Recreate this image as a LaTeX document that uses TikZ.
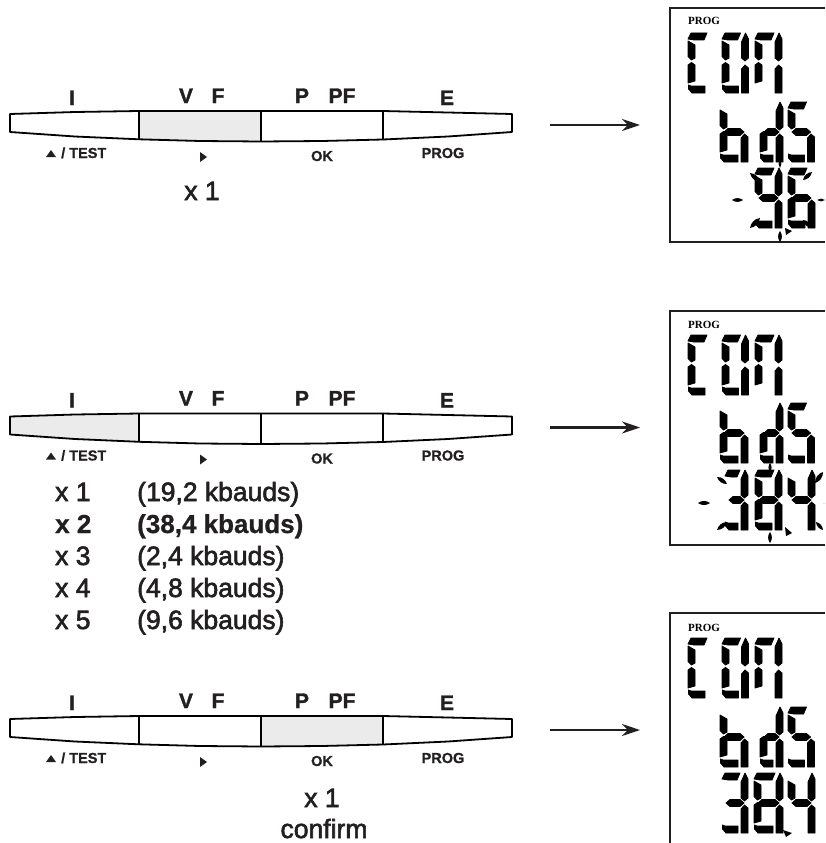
\documentclass[tikz,border=0pt]{standalone}
\usepackage{fontspec}
\setmainfont{Liberation Sans}
\newfontfamily\lblf[RawFeature={embolden=2.2}]{Liberation Sans}
\newfontfamily\lblb[RawFeature={embolden=0.8}]{Liberation Sans Bold}
\newfontfamily\lblk[RawFeature={embolden=1.5}]{Liberation Sans Bold}
\newfontfamily\serb{Liberation Serif Bold}
\usetikzlibrary{arrows.meta}
\definecolor{ink}{HTML}{231F20}
\definecolor{pressed}{HTML}{EBEBEB}
\tikzset{
  keytxt/.style={inner sep=0,anchor=base,text=ink,font=\lblk\fontsize{21}{21}\selectfont},
  subtxt/.style={inner sep=0,anchor=base,text=ink,font=\lblb\fontsize{14.5}{15}\selectfont},
  cnttxt/.style={inner sep=0,anchor=base,text=ink,font=\lblf\fontsize{26.5}{27}\selectfont},
  cntbold/.style={inner sep=0,anchor=base west,text=ink,font=\lblb\fontsize{26}{26}\selectfont},
  progtxt/.style={inner sep=0,anchor=base west,text=black,font=\serb\fontsize{11}{11}\selectfont},
  keybar/.style={draw=black,line width=1.8pt,line join=round},
  divider/.style={draw=black,line width=1.8pt},
  goarrow/.style={draw=ink,line width=2.2pt,-{Stealth[length=18pt,width=12pt]}},
  lcdbox/.style={draw=ink,line width=1.4pt},
  lcdseg/.style={fill=black,draw=black,line width=0.8pt,line join=round},
}
% seven-segment parts, local coordinates, width \dw, height 60
\newcommand\sga{\path[lcdseg] (0,6)--(3,0)--({\dw-8},0)--({\dw-11},7)--(6,7)--cycle;}
\newcommand\sgb{\path[lcdseg] ({\dw-7},9)--({\dw-3},0)--(\dw,6)--(\dw,25)--({\dw-3.5},28)--({\dw-7},25)--cycle;}
\newcommand\sgc{\path[lcdseg] ({\dw-7},36)--({\dw-3.5},32)--(\dw,35)--(\dw,60)--({\dw-7},60)--cycle;}
\newcommand\sgd{\path[lcdseg] (0.5,52)--(3,53)--({\dw-10},53)--({\dw-10},60)--(4,60)--(0.5,56)--cycle;}
\newcommand\sge{\path[lcdseg] (0,32)--(3.5,29.5)--(7,32)--(7,48)--(0,50)--cycle;}
\newcommand\sgf{\path[lcdseg] (0,8)--(7,12)--(7,25)--(3.5,27)--(0,23.5)--cycle;}
\newcommand\sgg{\path[lcdseg] (4,30)--(8,26.5)--({\dw-8},26.5)--({\dw-4},30)--({\dw-8},33.5)--(8,33.5)--cycle;}
\newcommand\dig[4]{\begin{scope}[shift={(#1,#2)}]\def\dw{#3}\foreach \s in {#4}{\csname sg\s\endcsname}\end{scope}}
\newcommand\ray[4]{\fill (#1,#2) to[bend left=36] (#3,#4) to[bend left=36] (#1,#2);}
\newcommand\lcdtop[2]{% #1 panel shift for COM, #2 shift for bds
  \dig{688}{#1+33}{27}{a,f,e,d}
  \dig{722}{#1+33}{26.5}{a,b,c,d,e,f}
  \dig{755}{#1+33}{27}{a,b,c,e,f}
  \dig{720}{#2+102}{28}{c,d,e,f,g}
  \dig{760}{#2+102}{23}{b,c,d,e,g}
  \dig{788}{#2+102}{26.5}{a,f,g,c,d}
}
\newcommand\keyrow[3]{% id, dy, pressed-key polygon
  \begin{scope}[yshift=-#2pt]
  \fill[pressed] #3;
  \draw[keybar] (10,114)--(75,112)--(139,111)--(261,111)--(383,111)--(448,112.5)--(512,114)--(512,132)--(448,136.5)--(383,139.5)--(322,141)--(261,141.5)--(200,141)--(139,139.3)--(75,136.5)--(10,132)--cycle;
  \draw[divider] (139,111)--(139,139.3);
  \draw[divider] (261,111)--(261,141.5);
  \draw[divider] (383,111)--(383,139.5);
  \node[keytxt] (i#1) at (72,105) {I};
  \node[keytxt] (v#1) at (186,103) {V};
  \node[keytxt] (f#1) at (218,103) {F};
  \node[keytxt] (p#1) at (302,103) {P};
  \node[keytxt] (pf#1) at (342,103) {PF};
  \node[keytxt] (e#1) at (447,105) {E};
  \fill[ink] (46,157)--(51,150)--(56,157)--cycle;
  \node[subtxt,anchor=base west] (t#1) at (61,158) {/ TEST};
  \fill[ink] (200,152)--(207,157)--(200,162)--cycle;
  \node[subtxt] (ok#1) at (322,161) {OK};
  \node[subtxt] (pr#1) at (443,158) {PROG};
  \end{scope}
}
\begin{document}
\begin{tikzpicture}[x=1pt,y=-1pt]
\useasboundingbox (0,0) rectangle (825,843);
\fill[white] (0,0) rectangle (825,843);
% key rows
\keyrow{a}{0}{(139,111)--(261,111)--(261,141.5)--(200,141)--(139,139.3)--cycle}
\keyrow{b}{302.5}{(10,114)--(75,112)--(139,111)--(139,139.3)--(75,136.5)--(10,132)--cycle}
\keyrow{c}{605}{(261,111)--(383,111)--(383,139.5)--(322,141)--(261,141.5)--cycle}
% counts
\node[cnttxt] (xa) at (202,200) {x 1};
\node[cnttxt,anchor=base west] (l1) at (55,501) {x 1};
\node[cnttxt,anchor=base west] (r1) at (137,501) {(19,2 kbauds)};
\node[cntbold] (l2) at (55,533) {x 2};
\node[cntbold] (r2) at (137,533) {(38,4 kbauds)};
\node[cnttxt,anchor=base west] (l3) at (55,565) {x 3};
\node[cnttxt,anchor=base west] (r3) at (137,565) {(2,4 kbauds)};
\node[cnttxt,anchor=base west] (l4) at (55,597) {x 4};
\node[cnttxt,anchor=base west] (r4) at (137,597) {(4,8 kbauds)};
\node[cnttxt,anchor=base west] (l5) at (55,629) {x 5};
\node[cnttxt,anchor=base west] (r5) at (137,629) {(9,6 kbauds)};
\node[cnttxt] (xc) at (322,807) {x 1};
\node[cnttxt] (cf) at (324,838) {confirm};
% arrows
\coordinate (sa) at (550,125); \coordinate (ta) at (640,125);
\coordinate (sb) at (550,427.5); \coordinate (tb) at (640,427.5);
\coordinate (sc) at (550,730); \coordinate (tc) at (640,730);
\draw[goarrow] (sa)--(ta);
\draw[goarrow] (sb)--(tb);
\draw[goarrow] (sc)--(tc);
% LCD frames (open on the right; third open below)
\draw[lcdbox] (825,8)--(670,8)--(670,242)--(825,242);
\draw[lcdbox] (825,311)--(670,311)--(670,545)--(825,545);
\draw[lcdbox] (825,613)--(670,613)--(670,843);
\node[progtxt] (pa) at (688,25) {PROG};
\node[progtxt] (pb) at (688,328) {PROG};
\node[progtxt] (pc) at (688,631) {PROG};
% LCD 1
\lcdtop{0}{0}
\dig{755}{168}{27}{a,b,c,d,f,g}
\dig{788}{168}{27}{a,c,d,e,f,g}
\ray{732}{200}{743}{200}
\ray{817}{200}{825}{200}
\ray{780}{160}{780}{168}
\ray{780}{231}{780}{242}
\ray{750}{173}{760}{182}
\ray{812}{172}{803}{180}
\ray{750}{228}{760}{218}
\ray{812}{228}{803}{220}
\fill (785,228)--(792,231)--(786,235)--cycle;
% LCD 2
\lcdtop{302}{301}
\dig{725}{470}{23}{a,b,c,d,g}
\dig{755}{470}{27}{a,b,c,d,e,f,g}
\dig{788}{470}{27}{b,c,f,g}
\ray{698}{503}{710}{503}
\ray{823}{503}{825}{503}
\ray{770}{463}{770}{472}
\ray{770}{532}{770}{543}
\ray{717}{477}{727}{484}
\ray{717}{530}{727}{522}
\ray{823}{472}{815}{483}
\ray{823}{530}{816}{522}
\fill (785,527)--(792,533)--(786,536)--cycle;
% LCD 3
\lcdtop{605}{605}
\dig{722}{773}{26}{a,b,c,d,g}
\dig{754}{773}{29}{a,b,c,d,e,f,g}
\dig{788}{773}{27}{b,c,f,g}
\fill (783,830)--(792,833)--(786,837)--cycle;
\end{tikzpicture}
\end{document}
